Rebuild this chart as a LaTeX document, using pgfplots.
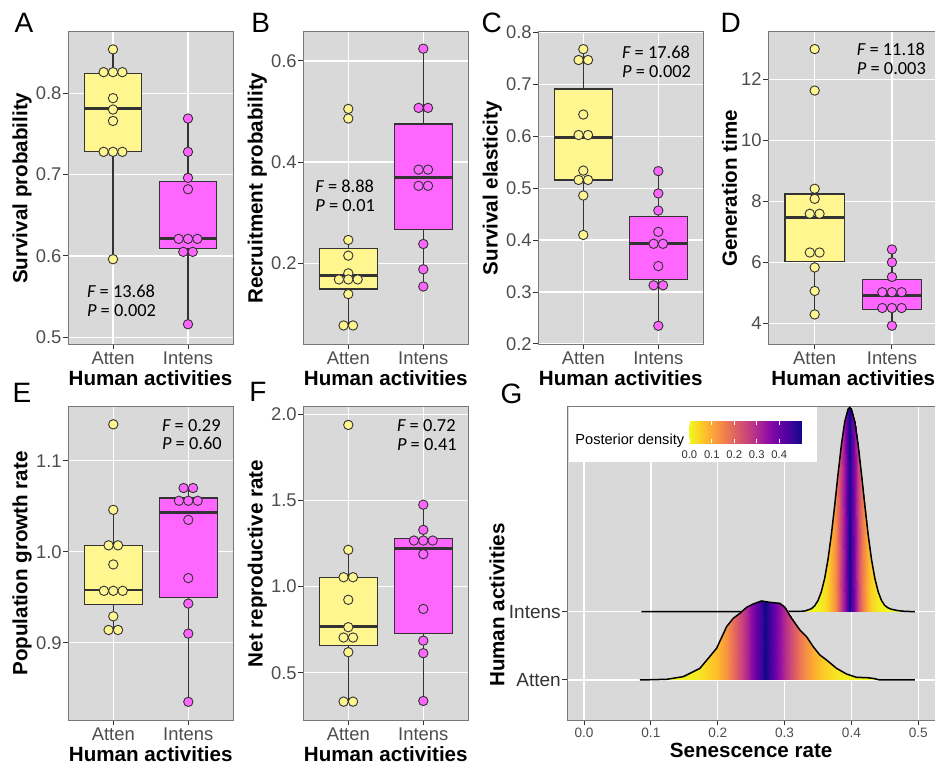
\documentclass[border=0pt]{standalone}
\usepackage{pgfplots}
\pgfplotsset{compat=1.18}
\usepgfplotslibrary{statistics}
\usepackage{fontspec}
\setmainfont{Liberation Sans}
\newfontfamily\calib{Carlito}

\definecolor{bggray}{RGB}{217,217,217}
\definecolor{boxyel}{RGB}{255,246,143}
\definecolor{boxmag}{RGB}{255,102,255}
\definecolor{dk}{RGB}{51,51,51}
\definecolor{tickgray}{RGB}{77,77,77}
\definecolor{bordergray}{RGB}{120,120,120}

\pgfplotsset{
  colormap={plasmar}{rgb255=(240,249,33) rgb255=(252,206,37) rgb255=(252,166,54) rgb255=(242,132,75) rgb255=(225,100,98) rgb255=(204,71,120) rgb255=(177,42,144) rgb255=(143,13,164) rgb255=(106,0,168) rgb255=(65,4,157) rgb255=(13,8,135)},
  base/.style={
    scale only axis, anchor=south west,
    axis background/.style={fill=bggray},
    axis line style={draw=bordergray, line width=0.5pt},
    grid=major, major grid style={white, line width=0.7pt},
    tick pos=left, tick align=outside, major tick length=2.5pt,
    tick style={draw=dk, line width=0.5pt},
    ticklabel style={font=\fontsize{9.2}{10}\selectfont, text=tickgray, inner sep=0.6pt},
    xticklabel style={inner sep=1.2pt},
    /pgf/number format/assume math mode=true,
    label style={font=\bfseries\fontsize{10.3}{12}\selectfont, text=black},
    xlabel style={yshift=2.2pt},
    ylabel shift=-2pt,
  },
  panel/.style={base,
    xmin=0.4, xmax=2.6, xtick={1,2}, xticklabels={Atten,Intens},
    xlabel={Human activities},
  },
  ydec/.style={yticklabel style={/pgf/number format/.cd, fixed, fixed zerofill, precision=1}},
  ydots/.style={only marks, mark=*, mark size=2.35pt, mark options={fill=boxyel, draw=dk, line width=0.45pt}},
  mdots/.style={only marks, mark=*, mark size=2.35pt, mark options={fill=boxmag, draw=dk, line width=0.45pt}},
}
\tikzset{fp/.style={font=\calib\fontsize{9.2}{9.4}\selectfont, align=left, text=black, inner sep=0pt, anchor=west}}
\newcommand{\fp}[2]{{\itshape F} = #1\\{\itshape P} = #2}
\newcommand{\bx}[7]{\addplot[boxplot prepared={draw direction=y, draw position=#1, lower whisker=#2, lower quartile=#3, median=#4, upper quartile=#5, upper whisker=#6, box extend=0.77, whisker extend=0}, draw=dk, line width=0.6pt, fill=#7, boxplot/every median/.style={line width=1.4pt}] coordinates {};}

\begin{document}
\begin{tikzpicture}
\useasboundingbox (0,0) rectangle (467.5pt,382pt);

% ---------- A ----------
\begin{axis}[panel, ydec, at={(34pt,209.75pt)}, width=82.5pt, height=156.25pt,
  ymin=0.4911, ymax=0.8754, ytick={0.5,0.6,0.7,0.8}, ylabel={Survival probability}]
\bx{1}{0.596}{0.7287}{0.7815}{0.8246}{0.854}{boxyel}
\bx{2}{0.516}{0.609}{0.6215}{0.692}{0.769}{boxmag}
\addplot[ydots] coordinates {(1,0.854) (0.875,0.826) (1,0.826) (1.125,0.826) (1,0.794) (1,0.780) (1,0.766) (0.875,0.728) (1,0.728) (1.125,0.728) (1,0.596)};
\addplot[mdots] coordinates {(2,0.769) (2,0.728) (2,0.696) (2,0.682) (1.875,0.621) (2,0.621) (2.125,0.621) (1.937,0.605) (2.063,0.605) (2,0.516)};
\node[fp] at (axis cs:0.649,0.545) {\fp{13.68}{0.002}};
\end{axis}

% ---------- B ----------
\begin{axis}[panel, ydec, at={(151.65pt,209.75pt)}, width=82.5pt, height=156.25pt,
  ymin=0.0394, ymax=0.657, ytick={0.2,0.4,0.6}, ylabel={Recruitment probability}]
\bx{1}{0.077}{0.149}{0.176}{0.2296}{0.246}{boxyel}
\bx{2}{0.154}{0.266}{0.370}{0.475}{0.624}{boxmag}
\addplot[ydots] coordinates {(1,0.505) (1,0.486) (1,0.246) (1,0.215) (1,0.180) (0.875,0.168) (1,0.168) (1.125,0.168) (1,0.139) (0.937,0.077) (1.063,0.077)};
\addplot[mdots] coordinates {(2,0.624) (1.937,0.507) (2.063,0.507) (1.937,0.385) (2.063,0.385) (1.937,0.353) (2.063,0.353) (2,0.238) (2,0.188) (2,0.154)};
\node[fp] at (axis cs:0.556,0.333) {\fp{8.88}{0.01}};
\end{axis}

% ---------- C ----------
\begin{axis}[panel, ydec, at={(269.15pt,209.75pt)}, width=82.5pt, height=156.25pt,
  ymin=0.199, ymax=0.801, ytick={0.2,0.3,0.4,0.5,0.6,0.7,0.8}, ylabel={Survival elasticity}]
\bx{1}{0.410}{0.516}{0.598}{0.691}{0.768}{boxyel}
\bx{2}{0.235}{0.324}{0.394}{0.4455}{0.533}{boxmag}
\addplot[ydots] coordinates {(1,0.768) (0.937,0.747) (1.063,0.747) (1,0.642) (0.937,0.6025) (1.063,0.6025) (1,0.534) (0.937,0.516) (1.063,0.516) (1,0.486) (1,0.410)};
\addplot[mdots] coordinates {(2,0.533) (2,0.490) (2,0.457) (2,0.416) (1.937,0.393) (2.063,0.393) (2,0.350) (1.937,0.313) (2.063,0.313) (2,0.235)};
\node[fp] at (axis cs:1.512,0.744) {\fp{17.68}{0.002}};
\end{axis}

% ---------- D ----------
\begin{axis}[panel, at={(384.15pt,209.75pt)}, width=85pt, height=156.25pt,
  ymin=3.305, ymax=13.55, ytick={4,6,8,10,12}, ylabel={Generation time}]
\bx{1}{4.29}{6.02}{7.46}{8.24}{8.41}{boxyel}
\bx{2}{3.92}{4.44}{4.91}{5.43}{6.42}{boxmag}
\addplot[ydots] coordinates {(1,12.99) (1,11.63) (1,8.41) (1,8.08) (0.937,7.59) (1.063,7.59) (0.937,6.32) (1.063,6.32) (1,5.83) (1,5.06) (1,4.29)};
\addplot[mdots] coordinates {(2,6.42) (2,6.0) (2,5.52) (1.875,5.02) (2,5.02) (2.125,5.02) (1.875,4.50) (2,4.50) (2.125,4.50) (2,3.92)};
\node[fp] at (axis cs:1.542,12.675) {\fp{11.18}{0.003}};
\end{axis}

% ---------- E ----------
\begin{axis}[panel, ydec, at={(34.15pt,21.75pt)}, width=82.5pt, height=157pt,
  ymin=0.8145, ymax=1.1596, ytick={0.9,1.0,1.1}, ylabel={Population growth rate}]
\bx{1}{0.914}{0.942}{0.958}{1.0066}{1.046}{boxyel}
\bx{2}{0.835}{0.950}{1.043}{1.059}{1.070}{boxmag}
\addplot[ydots] coordinates {(1,1.140) (1,1.046) (0.937,1.007) (1.063,1.007) (1,0.986) (0.875,0.957) (1,0.957) (1.125,0.957) (1,0.929) (0.937,0.914) (1.063,0.914)};
\addplot[mdots] coordinates {(1.937,1.070) (2.063,1.070) (1.875,1.056) (2,1.056) (2.125,1.056) (2,1.035) (2,0.971) (2,0.943) (2,0.910) (2,0.835)};
\node[fp] at (axis cs:1.645,1.1288) {\fp{0.29}{0.60}};
\end{axis}

% ---------- F ----------
\begin{axis}[panel, ydec, at={(151.65pt,21.75pt)}, width=82.5pt, height=157pt,
  ymin=0.2225, ymax=2.045, ytick={0.5,1.0,1.5,2.0}, ylabel={Net reproductive rate}]
\bx{1}{0.332}{0.657}{0.768}{1.054}{1.213}{boxyel}
\bx{2}{0.336}{0.729}{1.219}{1.277}{1.475}{boxmag}
\addplot[ydots] coordinates {(1,1.938) (1,1.213) (0.937,1.054) (1.063,1.054) (1,0.923) (1,0.764) (0.937,0.704) (1.063,0.704) (1,0.619) (0.937,0.332) (1.063,0.332)};
\addplot[mdots] coordinates {(2,1.475) (2,1.329) (1.875,1.267) (2,1.267) (2.125,1.267) (2,1.188) (2,0.870) (2,0.686) (2,0.613) (2,0.336)};
\node[fp] at (axis cs:1.645,1.881) {\fp{0.72}{0.41}};
\end{axis}

% ---------- G ----------
\begin{axis}[base, at={(283.65pt,21.75pt)}, width=183.85pt, height=157pt,
  xmin=-0.025, xmax=0.525, ymin=0.407, ymax=5.004,
  xtick={0,0.1,0.2,0.3,0.4,0.5}, ytick={1,2}, yticklabels={Atten,Intens},
  xticklabel style={font=\fontsize{6.8}{8}\selectfont, /pgf/number format/.cd, fixed, fixed zerofill, precision=1},
  yticklabel style={font=\fontsize{9.5}{10}\selectfont, text=dk},
  xlabel={Senescence rate}, ylabel={Human activities},
  ylabel style={at={(ticklabel cs:0.368)}},
  colormap name=plasmar, point meta min=0, point meta max=0.5]
% Intens ridge (baseline 2)
\addplot[surf, shader=interp, mesh/rows=2, point meta=explicit, draw=none] table[x=x, y=y, meta=m] {
x y m
0.0857 2 0
0.3200 2 0.0001
0.3300 2 0.0003
0.3400 2 0.0018
0.3450 2 0.0038
0.3500 2 0.0080
0.3550 2 0.0155
0.3600 2 0.0285
0.3650 2 0.0495
0.3700 2 0.0814
0.3750 2 0.1267
0.3800 2 0.1873
0.3850 2 0.2629
0.3900 2 0.3517
0.3950 2 0.4495
0.3975 2 0.5000
0.4000 2 0.4495
0.4050 2 0.3517
0.4100 2 0.2629
0.4150 2 0.1873
0.4200 2 0.1267
0.4250 2 0.0814
0.4300 2 0.0495
0.4350 2 0.0285
0.4400 2 0.0155
0.4450 2 0.0080
0.4500 2 0.0038
0.4550 2 0.0018
0.4600 2 0.0010
0.4700 2 0.0003
0.4800 2 0.0001
0.4948 2 0

0.0857 2.000 0
0.3200 2.003 0.0001
0.3300 2.010 0.0003
0.3400 2.042 0.0018
0.3450 2.086 0.0038
0.3500 2.163 0.0080
0.3550 2.292 0.0155
0.3600 2.488 0.0285
0.3650 2.767 0.0495
0.3700 3.129 0.0814
0.3750 3.558 0.1267
0.3800 4.016 0.1873
0.3850 4.445 0.2629
0.3900 4.781 0.3517
0.3950 4.966 0.4495
0.3975 4.990 0.5000
0.4000 4.966 0.4495
0.4050 4.781 0.3517
0.4100 4.445 0.2629
0.4150 4.016 0.1873
0.4200 3.558 0.1267
0.4250 3.129 0.0814
0.4300 2.767 0.0495
0.4350 2.488 0.0285
0.4400 2.292 0.0155
0.4450 2.163 0.0080
0.4500 2.090 0.0038
0.4550 2.055 0.0018
0.4600 2.035 0.0010
0.4700 2.015 0.0003
0.4800 2.005 0.0001
0.4948 2.000 0
};
\addplot[black, line width=0.75pt] coordinates {(0.0857,2.000) (0.3200,2.003) (0.3300,2.010) (0.3400,2.042) (0.3450,2.086) (0.3500,2.163) (0.3550,2.292) (0.3600,2.488) (0.3650,2.767) (0.3700,3.129) (0.3750,3.558) (0.3800,4.016) (0.3850,4.445) (0.3900,4.781) (0.3950,4.966) (0.3975,4.990) (0.4000,4.966) (0.4050,4.781) (0.4100,4.445) (0.4150,4.016) (0.4200,3.558) (0.4250,3.129) (0.4300,2.767) (0.4350,2.488) (0.4400,2.292) (0.4450,2.163) (0.4500,2.090) (0.4550,2.055) (0.4600,2.035) (0.4700,2.015) (0.4800,2.005) (0.4948,2.000)};
% Atten ridge (baseline 1)
\addplot[surf, shader=interp, mesh/rows=2, point meta=explicit, draw=none] table[x=x, y=y, meta=m] {
x y m
0.0837 1 0.000
0.1236 1 0.001
0.1485 1 0.006
0.1734 1 0.023
0.1983 1 0.072
0.2133 1 0.130
0.2232 1 0.182
0.2332 1 0.241
0.2432 1 0.305
0.2531 1 0.372
0.2656 1 0.460
0.2700 1 0.500
0.2780 1 0.451
0.2930 1 0.345
0.3004 1 0.295
0.3104 1 0.234
0.3229 1 0.170
0.3329 1 0.127
0.3428 1 0.093
0.3528 1 0.066
0.3627 1 0.046
0.3777 1 0.024
0.3926 1 0.012
0.4076 1 0.006
0.4226 1 0.003
0.4325 1 0.001
0.4425 1 0.000
0.4948 1 0.000

0.0837 1.000 0.000
0.1236 1.010 0.001
0.1485 1.049 0.006
0.1734 1.171 0.023
0.1983 1.464 0.072
0.2133 1.781 0.130
0.2232 1.903 0.182
0.2332 1.976 0.241
0.2432 2.064 0.305
0.2531 2.113 0.372
0.2656 2.157 0.460
0.2700 2.150 0.500
0.2780 2.137 0.451
0.2930 2.122 0.345
0.3004 2.064 0.295
0.3104 1.903 0.234
0.3229 1.732 0.170
0.3329 1.634 0.127
0.3428 1.488 0.093
0.3528 1.366 0.066
0.3627 1.293 0.046
0.3777 1.171 0.024
0.3926 1.088 0.012
0.4076 1.039 0.006
0.4226 1.034 0.003
0.4325 1.024 0.001
0.4425 1.000 0.000
0.4948 1.000 0.000
};
\addplot[black, line width=0.75pt] coordinates {(0.0837,1.000) (0.1236,1.010) (0.1485,1.049) (0.1734,1.171) (0.1983,1.464) (0.2133,1.781) (0.2232,1.903) (0.2332,1.976) (0.2432,2.064) (0.2531,2.113) (0.2656,2.157) (0.2700,2.150) (0.2780,2.137) (0.2930,2.122) (0.3004,2.064) (0.3104,1.903) (0.3229,1.732) (0.3329,1.634) (0.3428,1.488) (0.3528,1.366) (0.3627,1.293) (0.3777,1.171) (0.3926,1.088) (0.4076,1.039) (0.4226,1.034) (0.4325,1.024) (0.4425,1.000) (0.4948,1.000)};
\end{axis}

% legend box
\fill[white] (284.65pt,151.15pt) rectangle (408.65pt,178.35pt);
\node[anchor=west, font=\fontsize{7.3}{8}\selectfont, inner sep=0pt] at (287.5pt,161.5pt) {Posterior density};
\begin{axis}[at={(344.65pt,160.35pt)}, anchor=south west, scale only axis, width=56.2pt, height=11.15pt,
  xmin=0, xmax=0.5, ymin=0, ymax=1, axis line style={draw=none}, ytick=\empty,
  xtick={0,0.1,0.2,0.3,0.4}, axis on top,
  xticklabel style={font=\fontsize{5.6}{6}\selectfont, text=dk, /pgf/number format/.cd, fixed, fixed zerofill, precision=1},
  /pgf/number format/assume math mode=true,
  tick style={white, line width=0.4pt}, major tick length=2pt, tick align=inside, xtick pos=both, xticklabel pos=lower,
  colormap name=plasmar, point meta min=0, point meta max=0.5]
\addplot[surf, shader=interp, mesh/rows=2, point meta=x, draw=none] coordinates {(0,0) (0.1,0) (0.2,0) (0.3,0) (0.4,0) (0.5,0) (0,1) (0.1,1) (0.2,1) (0.3,1) (0.4,1) (0.5,1)};
\end{axis}

% panel letters
\begin{scope}[every node/.style={font=\fontsize{14}{14}\selectfont, inner sep=0pt}]
\node at (12pt,370.5pt) {A};
\node at (130.4pt,370.5pt) {B};
\node at (245.85pt,370.5pt) {C};
\node at (365.4pt,370.5pt) {D};
\node at (11pt,185.5pt) {E};
\node at (129pt,186pt) {F};
\node at (255.75pt,185pt) {G};
\end{scope}
\end{tikzpicture}
\end{document}
